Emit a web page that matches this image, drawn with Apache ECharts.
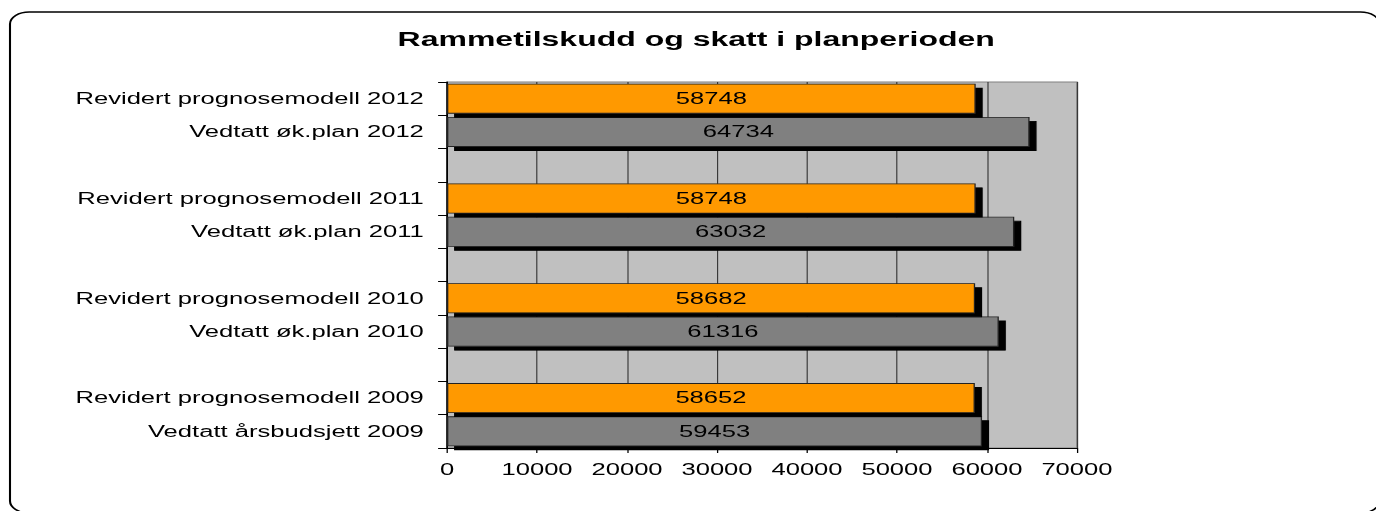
<!DOCTYPE html>
<html>
<head>
<meta charset="utf-8">
<script src="https://cdn.jsdelivr.net/npm/echarts@6/dist/echarts.min.js"></script>
<style>
  html, body { margin: 0; padding: 0; background: #fff; overflow: hidden; }
  /* the original picture is stretched sideways, so draw narrow and widen it */
  #chart { width: 860px; height: 511px; transform: scaleX(1.6); transform-origin: 0 0; }
</style>
</head>
<body>
<div id="chart"></div>
<script>
  const titleText = 'Rammetilskudd og skatt i planperioden';
  const vedtattLabels = ['Vedtatt årsbudsjett 2009', 'Vedtatt øk.plan 2010', 'Vedtatt øk.plan 2011', 'Vedtatt øk.plan 2012'];
  const revidertLabels = ['Revidert prognosemodell 2009', 'Revidert prognosemodell 2010', 'Revidert prognosemodell 2011', 'Revidert prognosemodell 2012'];
  const vedtatt = [59453, 61316, 63032, 64734];
  const revidert = [58652, 58682, 58748, 58748];
  const xTicks = [0, 10000, 20000, 30000, 40000, 50000, 60000, 70000];

  // bottom to top: vedtatt, revidert, empty row between the years
  const categories = [];
  const vedtattData = [];
  const revidertData = [];
  for (let i = 0; i < vedtatt.length; i++) {
    categories.push(vedtattLabels[i]);
    vedtattData.push(vedtatt[i]);
    revidertData.push('-');
    categories.push(revidertLabels[i]);
    vedtattData.push('-');
    revidertData.push(revidert[i]);
    if (i < vedtatt.length - 1) {
      categories.push('');
      vedtattData.push('-');
      revidertData.push('-');
    }
  }

  const font = 'Liberation Sans, Arial, sans-serif';

  const barStyle = function (color) {
    return {
      color: color,
      borderColor: '#222',
      borderWidth: 0.8,
      shadowColor: '#000',
      shadowBlur: 0,
      shadowOffsetX: 4.4,
      shadowOffsetY: 4
    };
  };

  const barLabel = {
    show: true,
    position: 'inside',
    color: '#000',
    fontFamily: font,
    fontSize: 16,
    textBorderWidth: 0,
    textShadowColor: 'transparent'
  };

  const chart = echarts.init(document.getElementById('chart'), null, { renderer: 'svg' });
  chart.setOption({
    animation: false,
    backgroundColor: '#fff',
    title: {
      text: titleText,
      left: 248.5,
      top: 29,
      padding: 0,
      textStyle: { fontFamily: font, fontSize: 20, fontWeight: 'bold', color: '#000' }
    },
    graphic: [{
      type: 'rect',
      z: -10,
      shape: { x: 6.25, y: 12, width: 856, height: 501, r: 12 },
      style: { fill: 'none', stroke: '#000', lineWidth: 1.3 }
    }],
    grid: {
      left: 279.4,
      right: 186.9,
      top: 82,
      bottom: 63,
      show: true,
      backgroundColor: '#C0C0C0',
      borderColor: '#808080',
      borderWidth: 1
    },
    xAxis: {
      type: 'value',
      min: xTicks[0],
      max: xTicks[xTicks.length - 1],
      interval: xTicks[1] - xTicks[0],
      axisLine: { show: true, lineStyle: { color: '#000', width: 1 } },
      axisTick: { show: true, length: 5, lineStyle: { color: '#000', width: 0.8 } },
      axisLabel: {
        color: '#000', fontFamily: font, fontSize: 16, margin: 14,
        formatter: function (v) { return String(v); }
      },
      splitLine: { show: true, lineStyle: { color: '#333', width: 0.7 } }
    },
    yAxis: {
      type: 'category',
      data: categories,
      axisLine: { show: true, lineStyle: { color: '#000', width: 1 } },
      axisTick: { show: true, length: 5.6, lineStyle: { color: '#000', width: 1 } },
      axisLabel: { color: '#000', fontFamily: font, fontSize: 16, margin: 14.5, interval: 0 },
      splitLine: { show: false }
    },
    series: [
      {
        name: 'Vedtatt',
        type: 'bar',
        data: vedtattData,
        barWidth: 30,
        barGap: '-100%',
        itemStyle: barStyle('#808080'),
        label: barLabel
      },
      {
        name: 'Revidert',
        type: 'bar',
        data: revidertData,
        barWidth: 30,
        barGap: '-100%',
        itemStyle: barStyle('#FF9900'),
        label: barLabel
      }
    ]
  });
</script>
</body>
</html>
